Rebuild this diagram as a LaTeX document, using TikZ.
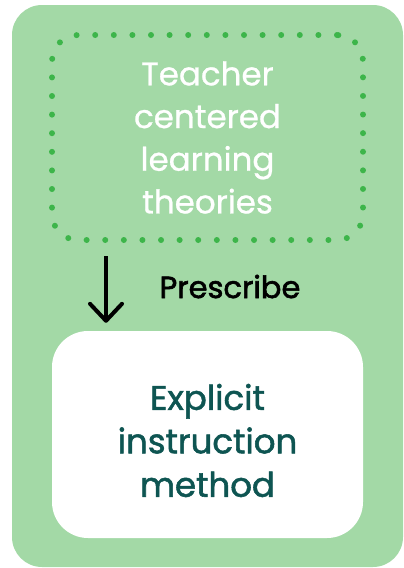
\documentclass[tikz,border=0pt]{standalone}
\usepackage{fontspec}
\setmainfont{Poppins}
\usetikzlibrary{arrows.meta}
\definecolor{panelgreen}{HTML}{A3D9A6}
\definecolor{dotgreen}{HTML}{3DB54A}
\definecolor{tealtext}{HTML}{0E5552}
\begin{document}
\begin{tikzpicture}[x=1pt,y=-1pt,
    theorybox/.style={draw=dotgreen,line width=6pt,line cap=round,
      dash pattern=on 0pt off 18.6pt,rounded corners=26pt,
      minimum width=311pt,minimum height=205pt,text=white,align=center,
      font=\fontsize{32.5}{42.7}\selectfont\addfontfeatures{FakeBold=0.8}},
    methodbox/.style={fill=white,rounded corners=36pt,minimum width=311pt,
      minimum height=207pt},
    methodtext/.style={text=tealtext,align=center,
      font=\fontsize{34}{43.5}\selectfont\addfontfeatures{FakeBold=1.6}},
    prescribearrow/.style={line width=4pt,shorten <=13pt,shorten >=8pt,
      -{Straight Barb[length=17pt,width=32pt,line cap=round,line join=round]}}]
  \useasboundingbox (0,0) rectangle (404,568);
  \fill[panelgreen,rounded corners=30pt] (12,5) rectangle (403,567);
  \node[theorybox] (theories) at (207.5,137.5)
    {Teacher\\centered\\learning\\theories};
  \node[methodbox] (method) at (207.5,434.5) {};
  \node[methodtext,yshift=-6pt] (methodlabel) at (method.center)
    {Explicit\\instruction\\method};
  \coordinate (arrowx) at (106,0);
  \draw[prescribearrow] (theories.south -| arrowx)
    -- (method.north -| arrowx);
  \node[anchor=base,font=\fontsize{30.5}{32}\selectfont\addfontfeatures{FakeBold=2}]
    (prescribe) at (230,298) {Prescribe};
\end{tikzpicture}
\end{document}
